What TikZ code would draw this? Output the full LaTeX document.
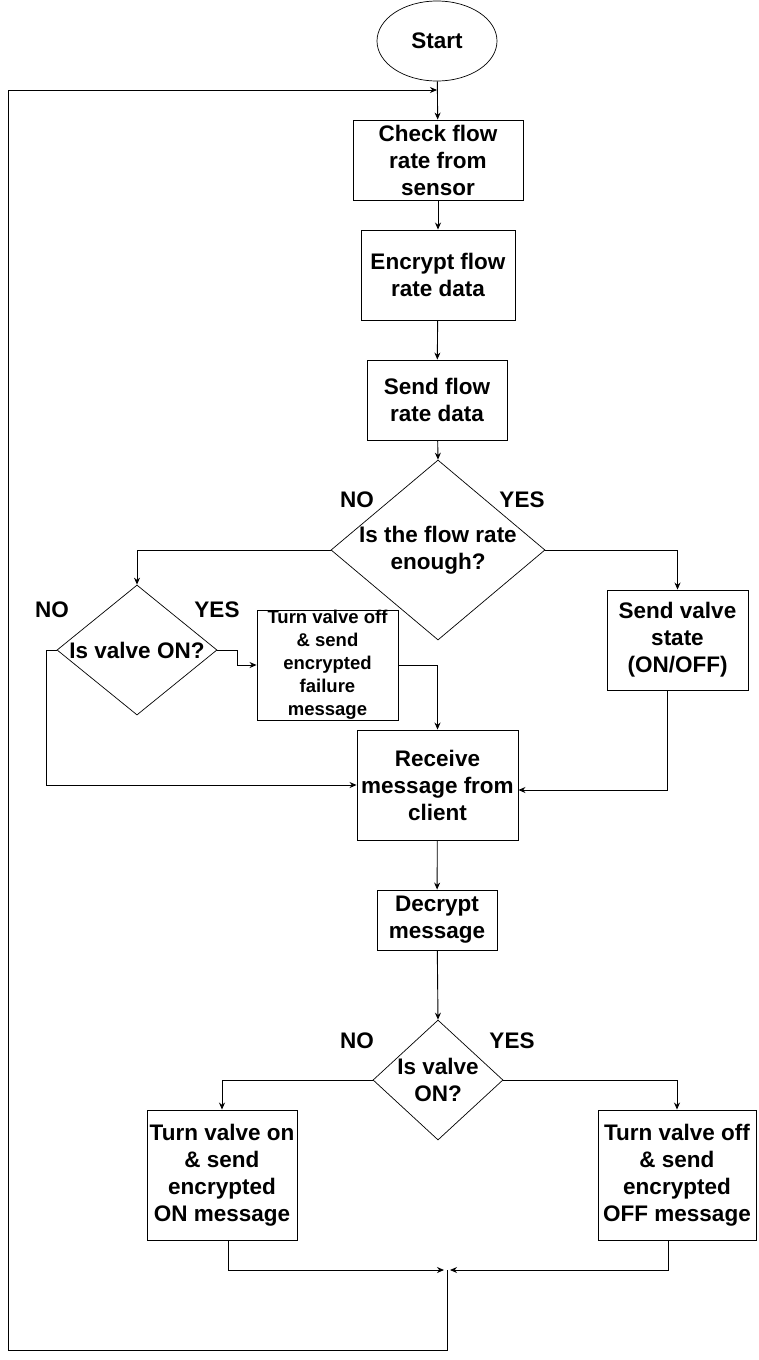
\documentclass[tikz,border=0pt]{standalone}
\usepackage{fontspec}
\setmainfont{Liberation Sans}
\usetikzlibrary{shapes.geometric,arrows.meta}
\tikzset{
box/.style={draw, line width=0.9pt, align=center, inner sep=0pt, font=\fontsize{22.5}{27}\selectfont\bfseries},
smallbox/.style={box, font=\fontsize{18.5}{23}\selectfont\bfseries},
choice/.style={draw, diamond, line width=0.7pt, inner sep=0pt},
ans/.style={align=center, inner sep=0pt, font=\fontsize{22.5}{27}\selectfont\bfseries},
arr/.style={-{Stealth[length=7pt,width=6pt]}, line width=0.9pt},
}

\begin{document}
\begin{tikzpicture}[x=1pt,y=-1pt]
\useasboundingbox[fill=white] (0,0) rectangle (758,1360);

\node[box, ellipse, line width=0.7pt, minimum width=120pt, minimum height=80pt] (start) at (437,41) {Start};
\node[box, minimum width=170pt, minimum height=80pt] (check) at (438,160) {Check flow\\rate from\\sensor};
\node[box, minimum width=154pt, minimum height=90pt] (encrypt) at (438,275) {Encrypt flow\\rate data};
\node[box, minimum width=140pt, minimum height=80pt] (sendflow) at (437,400) {Send flow\\rate data};

\node[choice, minimum width=214pt, minimum height=180pt] (enough) at (438,550) {};
\node[ans] (enoughtext) at (enough) {Is the flow rate\\enough?};
\node[ans] (enoughno) at (357,500) {NO};
\node[ans] (enoughyes) at (522,500) {YES};

\node[choice, minimum width=160pt, minimum height=130pt] (valveon) at (137,650) {};
\node[ans] (valveontext) at (valveon) {Is valve ON?};
\node[ans] (valveonno) at (52,610) {NO};
\node[ans] (valveonyes) at (217,610) {YES};

\node[smallbox, minimum width=141pt, minimum height=110pt] (failure) at (327.5,665) {Turn valve off\\\& send\\encrypted\\failure\\message};
\node[box, minimum width=141pt, minimum height=100pt] (state) at (677.5,640) {Send valve\\state\\(ON/OFF)};
\node[box, minimum width=161pt, minimum height=110pt] (receive) at (437.5,785) {Receive\\message from\\client};
\node[box, minimum width=120pt, minimum height=60pt] (decrypt) at (437,920) {Decrypt\\message};

\node[choice, minimum width=130pt, minimum height=120pt] (isvalve) at (438,1080) {};
\node[ans] (isvalvetext) at (isvalve) {Is valve\\ON?};
\node[ans] (isvalveno) at (357,1041) {NO};
\node[ans] (isvalveyes) at (512,1041) {YES};

\node[box, minimum width=150pt, minimum height=130pt] (turnon) at (222,1175) {Turn valve on\\\& send\\encrypted\\ON message};
\node[box, minimum width=158pt, minimum height=130pt] (turnoff) at (677,1175) {Turn valve off\\\& send\\encrypted\\OFF message};

\coordinate (back) at (437,90);
\coordinate (join) at (447,1270);

\draw[arr] (start) -- (check);
\draw[arr] (check) -- (encrypt);
\draw[arr] (encrypt) -- (sendflow);
\draw[arr] (sendflow) -- (enough.north);
\draw[arr] (enough.west) -| (valveon.north);
\draw[arr] (enough.east) -| (state.north);
\draw[arr] (valveon.east) -- ++(20,0) |- (failure.west);
\draw[arr] (valveon.west) -- ++(-10,0) |- (receive.west);
\draw[arr] (failure.east) -| (receive.north);
\draw[arr] ([xshift=-10pt]state.south) |- ([yshift=-5pt]receive.east);
\draw[arr] (receive) -- (decrypt);
\draw[arr] (decrypt) -- (isvalve.north);
\draw[arr] (isvalve.west) -| (turnon.north);
\draw[arr] (isvalve.east) -| (turnoff.north);
\draw[arr] ([xshift=6pt]turnon.south) |- ([xshift=-3pt]join);
\draw[arr] ([xshift=-9pt]turnoff.south) |- ([xshift=3pt]join);
\draw[arr] (join) |- (8,1350) |- (back);
\end{tikzpicture}
\end{document}
